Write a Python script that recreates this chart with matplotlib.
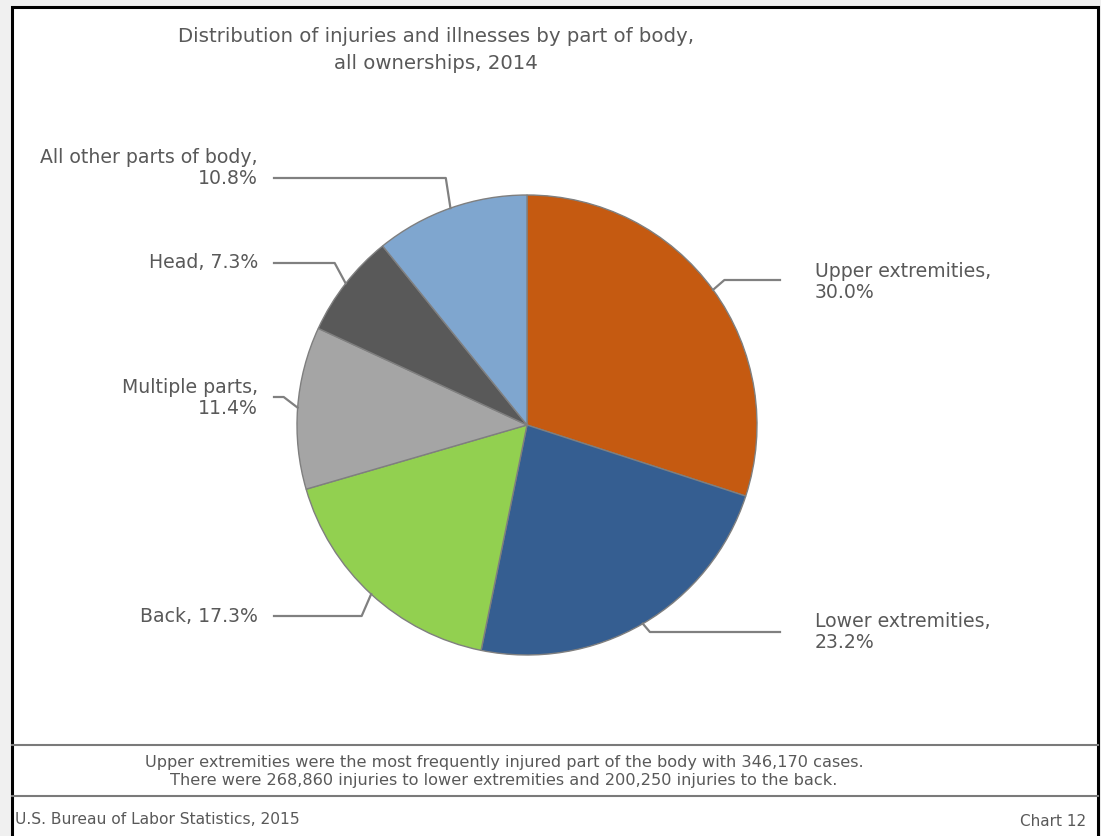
import numpy as np
import matplotlib.pyplot as plt
from matplotlib.patches import Rectangle

W, H = 1101, 836

parts = ["Upper extremities", "Lower extremities", "Back",
         "Multiple parts", "Head", "All other parts of body"]
shares = [30.0, 23.2, 17.3, 11.4, 7.3, 10.8]
colors = ["#C55A11", "#355E91", "#92D050", "#A5A5A5", "#595959", "#7FA6CF"]
label_text = ["Upper extremities,\n30.0%", "Lower extremities,\n23.2%",
              "Back, 17.3%", "Multiple parts,\n11.4%", "Head, 7.3%",
              "All other parts of body,\n10.8%"]

title = "Distribution of injuries and illnesses by part of body,\nall ownerships, 2014"
note = ("Upper extremities were the most frequently injured part of the body with 346,170 cases.\n"
        "There were 268,860 injuries to lower extremities and 200,250 injuries to the back.")
source = "U.S. Bureau of Labor Statistics, 2015"
chart_no = "Chart 12"

txt = "#595959"
line_c = "#808080"


def py(y):
    # pixel row (from top) -> axes y (from bottom)
    return H - y


fig = plt.figure(figsize=(W / 100, H / 100), dpi=100)
fig.patch.set_facecolor("#F0F0F0")
ax = fig.add_axes([0, 0, 1, 1])
ax.set_xlim(0, W)
ax.set_ylim(0, H)
ax.set_aspect("equal")
ax.axis("off")

# frame
ax.add_patch(Rectangle((12, -5), 1086, py(7) + 5, facecolor="white",
                       edgecolor="black", lw=2.2, zorder=0))
ax.plot([12, 1098], [py(745), py(745)], color="#7a7a7a", lw=1.5)
ax.plot([12, 1098], [py(796), py(796)], color="#7a7a7a", lw=1.5)

cx, cy, r = 527, py(425), 230
wedges, _ = ax.pie(shares, colors=colors, startangle=90, counterclock=False,
                   center=(cx, cy), radius=r,
                   wedgeprops=dict(edgecolor="#7f7f7f", linewidth=1.0))
ax.set_xlim(0, W)
ax.set_ylim(0, H)

# label layout: (line y, line end x, text x, text y, side)
layout = [
    (280, 780, 815, 282, "right"),
    (632, 780, 815, 632, "right"),
    (616, 274, 258, 616, "left"),
    (397, 274, 258, 398, "left"),
    (263, 274, 258, 263, "left"),
    (178, 274, 258, 168, "left"),
]

for w, lab, (ly, lx, tx, ty, side) in zip(wedges, label_text, layout):
    a = np.deg2rad((w.theta1 + w.theta2) / 2)
    ex, ey = cx + r * np.cos(a), cy + r * np.sin(a)
    kx = ex + 14 * np.cos(a)
    ax.plot([ex, kx, lx], [ey, py(ly), py(ly)], color=line_c, lw=1.6, zorder=1)
    ha = "left" if side == "right" else "right"
    ax.text(tx, py(ty), lab, ha=ha, va="center", fontsize=13.6, color=txt,
            multialignment=ha, linespacing=1.18)

ax.text(436, py(50), title, ha="center", va="center", fontsize=14.2,
        color=txt, linespacing=1.5)
ax.text(504, py(771), note, ha="center", va="center", fontsize=11.6,
        color=txt, linespacing=1.25)
ax.text(15, py(820), source, ha="left", va="center", fontsize=11.2, color=txt)
ax.text(1086, py(822), chart_no, ha="right", va="center", fontsize=11, color=txt)

fig.savefig("out.png", dpi=100, facecolor=fig.get_facecolor())
